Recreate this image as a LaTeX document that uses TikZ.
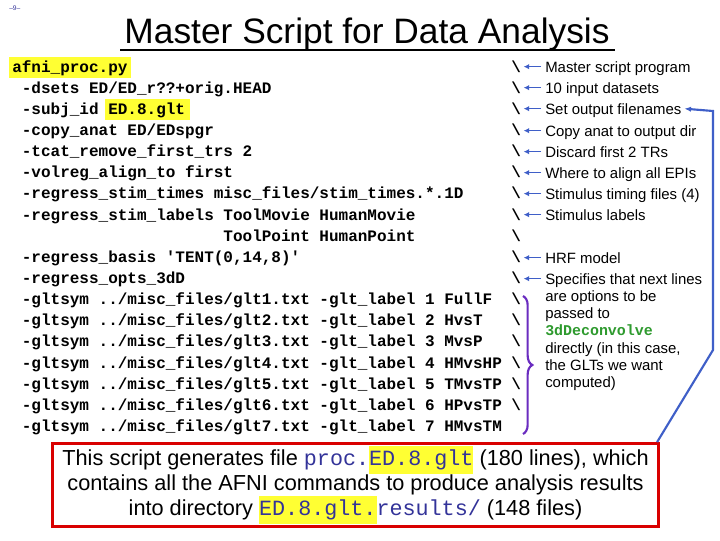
\documentclass[tikz,border=0pt]{standalone}
\usepackage{fontspec}
\setmainfont{Liberation Sans}
\setsansfont{Liberation Sans}
\setmonofont{Liberation Mono}
\usetikzlibrary{decorations.pathreplacing,arrows.meta}
\definecolor{hl}{HTML}{FFFF33}
\definecolor{arr}{HTML}{3F5FC8}
\definecolor{navy}{HTML}{333399}
\definecolor{brc}{HTML}{6A2CC0}
\definecolor{grn}{HTML}{2E9A2E}
\tikzset{
 code/.style={anchor=base west,inner sep=0pt,font=\fontsize{12}{12}\ttfamily\bfseries},
 bs/.style={anchor=base west,inner sep=0pt,font=\fontsize{12}{12}\ttfamily\bfseries},
 lab/.style={anchor=base west,inner sep=0pt,font=\fontsize{11.2}{11.2}\sffamily},
 tip/.style={arr,line width=1.1pt,-{Latex[length=4pt,width=4pt]}},
}
\begin{document}
\begin{tikzpicture}[x=0.75pt,y=-0.75pt]
\useasboundingbox[fill=white] (0,0) rectangle (720,540);
\node[anchor=west,inner sep=0pt,text=navy,font=\fontsize{5}{5}\sffamily] (pg) at (9,8) {--9--};
\node[inner sep=0pt,font=\fontsize{26.5}{26.5}\sffamily] (title) at (367,34) {Master Script for Data Analysis};
\draw[line width=1.5pt] (120,50) -- (615,50);
% highlights
\fill[hl] (9,57) rectangle (131,78);
\fill[hl] (105,99) rectangle (190,120);
% code lines
\node[code] (c0) at (12,72) {afni\_proc.py};
\foreach \t [count=\i] in {
 {-dsets ED/ED\_r??+orig.HEAD},
 {-subj\_id ED.8.glt},
 {-copy\_anat ED/EDspgr},
 {-tcat\_remove\_first\_trs 2},
 {-volreg\_align\_to first},
 {-regress\_stim\_times misc\_files/stim\_times.*.1D},
 {-regress\_stim\_labels ToolMovie HumanMovie},
 {},
 {-regress\_basis 'TENT(0,14,8)'},
 {-regress\_opts\_3dD},
 {-gltsym ../misc\_files/glt1.txt -glt\_label 1 FullF},
 {-gltsym ../misc\_files/glt2.txt -glt\_label 2 HvsT},
 {-gltsym ../misc\_files/glt3.txt -glt\_label 3 MvsP},
 {-gltsym ../misc\_files/glt4.txt -glt\_label 4 HMvsHP},
 {-gltsym ../misc\_files/glt5.txt -glt\_label 5 TMvsTP},
 {-gltsym ../misc\_files/glt6.txt -glt\_label 6 HPvsTP},
 {-gltsym ../misc\_files/glt7.txt -glt\_label 7 HMvsTM}}
 {\node[code] (c\i) at (21.6,{72+21.15*\i}) {\t};}
\node[code] (c8b) at (223.2,{72+21.15*8}) {ToolPoint HumanPoint};
\foreach \i in {0,...,16}
 {\node[bs] (b\i) at (511,{72+21.15*\i}) {\textbackslash};}
% labels with arrows
\foreach \t/\y [count=\i] in {
 Master script program/72, 10 input datasets/93, Set output filenames/114,
 Copy anat to output dir/136, Discard first 2 TRs/157, Where to align all EPIs/178,
 Stimulus timing files (4)/199, Stimulus labels/220, HRF model/263, Specifies that next lines/284}
 {\node[lab] (l\i) at (545,\y) {\t};
  \draw[tip] ([xshift=-3pt,yshift=4pt]l\i.base west) -- ++(-13pt,0);}
\foreach \t/\y [count=\i from 11] in {are options to be/301, passed to/318,
 {\textcolor{grn}{\ttfamily\bfseries 3dDeconvolve}}/335, {directly (in this case,}/353,
 the GLTs we want/370, computed)/387}
 {\node[lab] (l\i) at (545,\y) {\t};}
% brace
\draw[brc,line width=1.6pt,decorate,decoration={brace,amplitude=7pt}] (523,296) -- (523,434);
% bottom box
\node[draw=red!85!black,line width=2.4pt,inner sep=0pt,
 minimum width=454pt,minimum height=62pt,align=center,
 font=\fontsize{16.3}{18.8}\sffamily] (box) at (355.5,485)
 {This script generates file {\ttfamily\color{navy}proc.\colorbox{hl}{\kern-3pt ED.8.glt\kern-3pt}} (180 lines), which\\
 contains all the AFNI commands to produce analysis results\\
 into directory {\ttfamily\color{navy}\colorbox{hl}{\kern-3pt ED.8.glt.\kern-3pt}results/} (148 files)};
% connector
\coordinate (k1) at (713,111);
\coordinate (k2) at (713,350);
\draw[arr,line width=1.6pt,-{Latex[length=5pt,width=4pt]}] ([xshift=-2pt]box.north east) -- (k2) -- (k1) -- ([xshift=2pt,yshift=4pt]l3.base east);
\end{tikzpicture}
\end{document}
